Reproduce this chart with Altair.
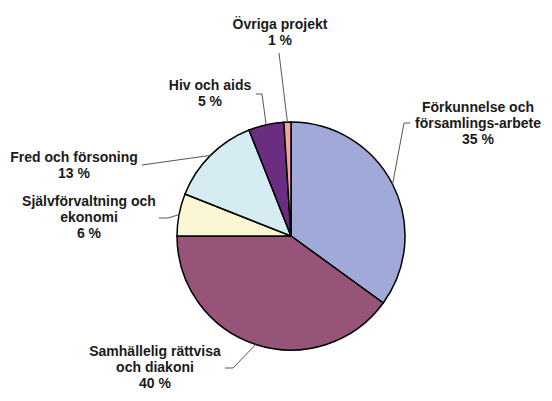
import math
import altair as alt
import pandas as pd

# ---- data ----
categories = [
    "Förkunnelse och\nförsamlings-arbete",
    "Samhällelig rättvisa\noch diakoni",
    "Självförvaltning och\nekonomi",
    "Fred och försoning",
    "Hiv och aids",
    "Övriga projekt",
]
values = [35, 40, 6, 13, 5, 1]
colors = ["#A1A9D8", "#975479", "#FBF7D5", "#D6ECF3", "#6B2D80", "#F4A3A3"]

# ---- layout (page pixel coordinates; first-line centre of each label) ----
W, H = 536, 385
CX, CY, R = 291, 236, 114
label_pos = [(478, 108), (155, 352), (89, 202), (74, 158), (210, 86), (280, 25)]
leader_elbows = [
    [(404, 123), (410, 123)],
    [(233, 368), (225, 368)],
    [(168, 218), (159, 218)],
    [(142, 165)],
    [(262, 94), (256, 94)],
    [(279, 53)],
]

total = sum(values)
pie_df = pd.DataFrame({
    "cat": categories,
    "val": values,
    "idx": list(range(len(values))),
})

label_df = pd.DataFrame({
    "text": [f"{c}\n{v} %" for c, v in zip(categories, values)],
    "x": [p[0] for p in label_pos],
    "y": [p[1] for p in label_pos],
})

# leader lines start on the pie edge at each slice's mid angle
rows = []
cum = 0
for i, v in enumerate(values):
    mid = (cum + v / 2) / total * 2 * math.pi
    cum += v
    ax = CX + R * math.sin(mid)
    ay = CY - R * math.cos(mid)
    pts = [(ax, ay)] + leader_elbows[i]
    for k, (px, py) in enumerate(pts):
        rows.append({"cat": categories[i], "k": k, "x": px, "y": py})
line_df = pd.DataFrame(rows)

xs = alt.Scale(domain=[8, 8 + W], nice=False, zero=False)
ys = alt.Scale(domain=[8, 8 + H], nice=False, zero=False, reverse=True)

pie = alt.Chart(pie_df).mark_arc(
    radius=R, stroke="black", strokeWidth=1.5
).encode(
    theta=alt.Theta("val:Q", stack=True),
    order=alt.Order("idx:Q"),
    color=alt.Color("cat:N", scale=alt.Scale(domain=categories, range=colors), legend=None),
    x=alt.value(CX - 8),
    y=alt.value(CY - 8),
)

leaders = alt.Chart(line_df).mark_line(color="#555555", strokeWidth=1).encode(
    x=alt.X("x:Q", scale=xs, axis=None),
    y=alt.Y("y:Q", scale=ys, axis=None),
    detail="cat:N",
    order="k:Q",
)

labels = alt.Chart(label_df).mark_text(
    font="Liberation Sans", fontWeight="bold", fontSize=14, lineHeight=16,
    lineBreak="\n", align="center", baseline="middle", color="#1a1a1a",
).encode(
    x=alt.X("x:Q", scale=xs, axis=None),
    y=alt.Y("y:Q", scale=ys, axis=None),
    text="text:N",
)

chart = alt.layer(pie, leaders, labels).properties(
    width=W, height=H, padding=0,
    autosize=alt.AutoSizeParams(type="none"),
).configure_view(stroke=None)

chart.save("out.html", embed_options={"renderer": "svg", "actions": False})
